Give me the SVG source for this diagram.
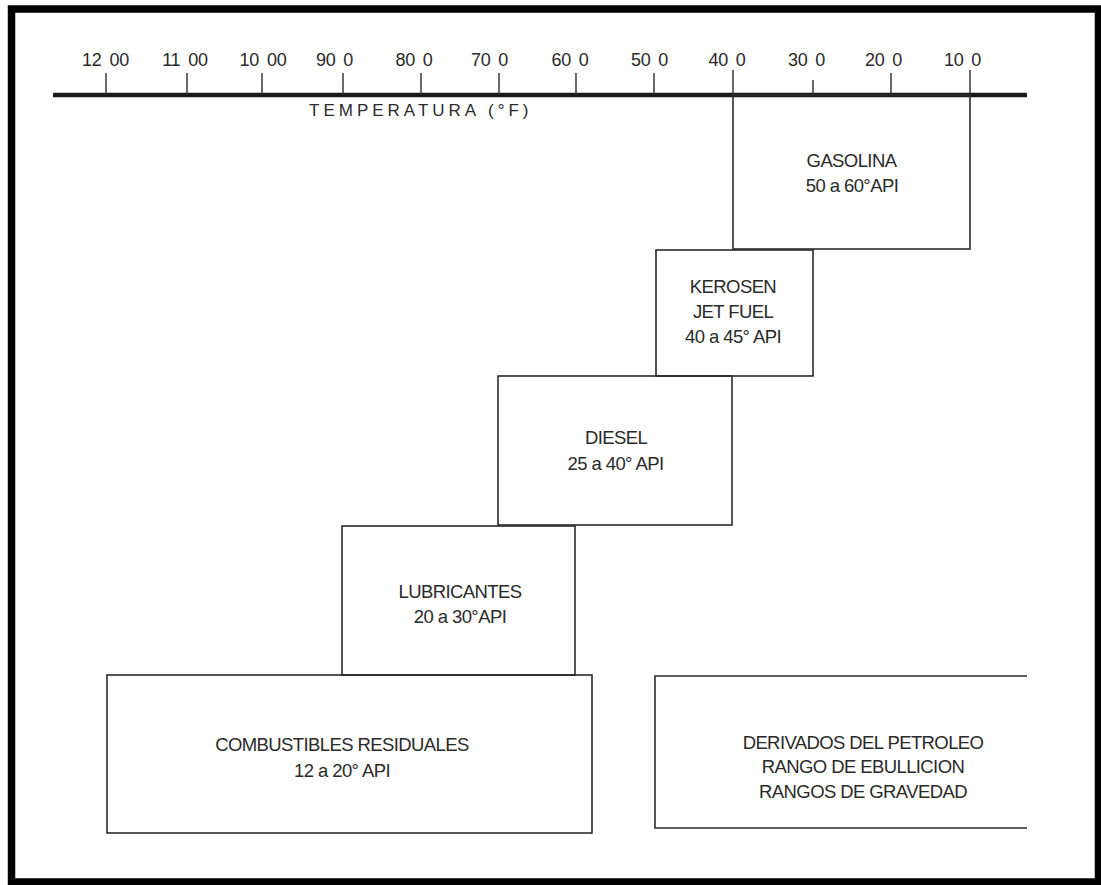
<svg xmlns="http://www.w3.org/2000/svg" width="1101" height="885" viewBox="0 0 1101 885">
  <style>
    .box { fill: none; stroke: #2b2b2b; stroke-width: 1.6; }
    .lbl { font-family: "Liberation Sans", Arial, sans-serif; font-size: 18.5px; fill: #2a2a2a; text-anchor: middle; letter-spacing: -0.6px; }
    .tick { stroke: #2b2b2b; stroke-width: 1.4; }
    .axislbl { font-family: "Liberation Sans", Arial, sans-serif; font-size: 18px; fill: #2a2a2a; text-anchor: middle; letter-spacing: -0.2px; word-spacing: 3px; }
    .axtitle { font-family: "Liberation Sans", Arial, sans-serif; font-size: 17px; fill: #2a2a2a; letter-spacing: 4px; }
  </style>
  <rect x="0" y="0" width="1101" height="885" fill="#ffffff"/>
  <rect id="frame" x="11.5" y="9" width="1087" height="873" fill="none" stroke="#000000" stroke-width="7.5"/>

  <g id="axis">
    <line x1="53" y1="95" x2="1027" y2="95" stroke="#1a1a1a" stroke-width="4.5"/>
    <g class="ticks">
      <line class="tick" x1="106" y1="73" x2="106" y2="95"/>
      <line class="tick" x1="187" y1="73" x2="187" y2="95"/>
      <line class="tick" x1="262" y1="73" x2="262" y2="95"/>
      <line class="tick" x1="343" y1="73" x2="343" y2="95"/>
      <line class="tick" x1="421" y1="73" x2="421" y2="95"/>
      <line class="tick" x1="499" y1="73" x2="499" y2="95"/>
      <line class="tick" x1="576" y1="73" x2="576" y2="95"/>
      <line class="tick" x1="654" y1="73" x2="654" y2="95"/>
      <line class="tick" x1="733" y1="70" x2="733" y2="95"/>
      <line class="tick" x1="813" y1="80" x2="813" y2="95"/>
      <line class="tick" x1="891" y1="73" x2="891" y2="95"/>
      <line class="tick" x1="970" y1="70" x2="970" y2="95"/>
    </g>
    <g class="labels">
      <text class="axislbl" x="105.5" y="66">12 00</text>
      <text class="axislbl" x="185" y="66">11 00</text>
      <text class="axislbl" x="263" y="66">10 00</text>
      <text class="axislbl" x="334.5" y="66">90 0</text>
      <text class="axislbl" x="414" y="66">80 0</text>
      <text class="axislbl" x="489.5" y="66">70 0</text>
      <text class="axislbl" x="570" y="66">60 0</text>
      <text class="axislbl" x="649.5" y="66">50 0</text>
      <text class="axislbl" x="727" y="66">40 0</text>
      <text class="axislbl" x="806.5" y="66">30 0</text>
      <text class="axislbl" x="883.5" y="66">20 0</text>
      <text class="axislbl" x="962.5" y="66">10 0</text>
    </g>
    <text class="axtitle" x="309" y="116">TEMPERATURA (°F)</text>
  </g>

  <g id="connectors"></g>

  <g id="gasolina">
    <rect class="box" x="733" y="95" width="237" height="154"/>
    <text class="lbl" x="851.5" y="167">GASOLINA</text>
    <text class="lbl" x="852" y="192">50 a 60°API</text>
  </g>

  <g id="kerosen">
    <rect class="box" x="656" y="250" width="157" height="126"/>
    <text class="lbl" x="733" y="293">KEROSEN</text>
    <text class="lbl" x="733" y="318">JET FUEL</text>
    <text class="lbl" x="733" y="343">40 a 45° API</text>
  </g>

  <g id="diesel">
    <rect class="box" x="498" y="376" width="234" height="149"/>
    <text class="lbl" x="616" y="444">DIESEL</text>
    <text class="lbl" x="615.5" y="470">25 a 40° API</text>
  </g>

  <g id="lubricantes">
    <rect class="box" x="342" y="526" width="233" height="149"/>
    <text class="lbl" x="460" y="598">LUBRICANTES</text>
    <text class="lbl" x="460" y="623">20 a 30°API</text>
  </g>

  <g id="combustibles">
    <rect class="box" x="107" y="675" width="485" height="158"/>
    <text class="lbl" x="342" y="751">COMBUSTIBLES RESIDUALES</text>
    <text class="lbl" x="342" y="777">12 a 20° API</text>
  </g>

  <g id="derivados">
    <path class="box" d="M1027,676 H655 V828 H1027"/>
    <text class="lbl" x="863" y="749">DERIVADOS DEL PETROLEO</text>
    <text class="lbl" x="863" y="773">RANGO DE EBULLICION</text>
    <text class="lbl" x="863" y="798">RANGOS DE GRAVEDAD</text>
  </g>
</svg>
